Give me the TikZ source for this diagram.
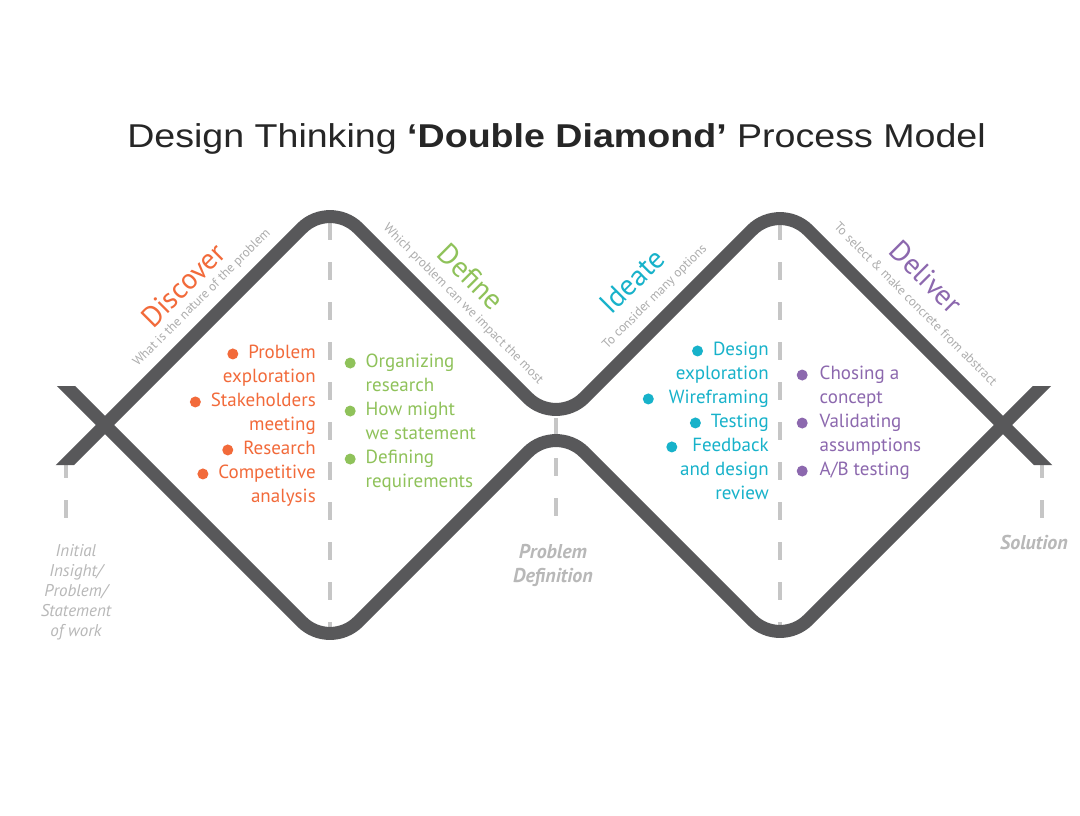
\documentclass[tikz,border=0pt]{standalone}
\usepackage{fontspec}
\setmainfont{PT Sans}
\newfontfamily\titlefont{Liberation Sans}
\definecolor{lineC}{HTML}{58585A}
\definecolor{dashC}{HTML}{C6C6C6}
\definecolor{labC}{HTML}{B8B8B8}
\definecolor{subC}{HTML}{ADADAD}
\definecolor{orangeC}{HTML}{F26A3A}
\definecolor{greenC}{HTML}{8FC25A}
\definecolor{cyanC}{HTML}{17B2CA}
\definecolor{purpleC}{HTML}{8C68AE}
\newcommand\blt[1]{\raisebox{-0.8pt}{\tikz\fill[#1] (0,0) circle (5.5pt);}\hspace{10pt}}
\tikzset{
  diamondline/.style={draw=lineC, line width=13pt, rounded corners=40pt},
  guide/.style={draw=dashC, line width=4pt, dash pattern=on 18pt off 22pt},
  phase/.style={inner sep=0pt, font=\fontsize{29}{29}\selectfont},
  phasesub/.style={inner sep=0pt, text=subC, font=\fontsize{13}{13}\selectfont},
  bullets/.style={inner sep=0pt, font=\fontsize{19}{24}\selectfont},
  milestone/.style={inner sep=0pt, text=labC, align=center}
}
\begin{document}
\begin{tikzpicture}[x=1pt,y=-1pt]
\useasboundingbox[fill=white] (0,0) rectangle (1080,815);
% title
\node[inner sep=0pt, text=black!85, font=\titlefont\fontsize{33}{33}\selectfont, xscale=1.139] (title) at (556.5,139)
  {Design Thinking \textbf{‘Double Diamond’} Process Model};
% guide dashed lines
\coordinate (g1a) at (66,460);   \coordinate (g1b) at (66,520);
\coordinate (g2a) at (330,222);  \coordinate (g2b) at (330,628);
\coordinate (g3a) at (556,418);  \coordinate (g3b) at (556,520);
\coordinate (g4a) at (780,222);  \coordinate (g4b) at (780,628);
\coordinate (g5a) at (1042,460); \coordinate (g5b) at (1042,520);
\draw[guide] (g1a) -- (g1b);
\draw[guide] (g2a) -- (g2b);
\draw[guide] (g3a) -- (g3b);
\draw[guide] (g4a) -- (g4b);
\draw[guide] (g5a) -- (g5b);
% diamond paths
\coordinate (u0) at (50,480);  \coordinate (u1) at (330,200); \coordinate (u2) at (556,426);
\coordinate (u3) at (780,202); \coordinate (u4) at (1060,482);
\coordinate (l0) at (50,370);  \coordinate (l1) at (330,650); \coordinate (l2) at (556,424);
\coordinate (l3) at (780,648); \coordinate (l4) at (1060,368);
\begin{scope}
\clip (0,386) -- (80,386) -- (80,150) -- (1030,150) -- (1030,386) -- (1080,386)
  -- (1080,465) -- (1030,465) -- (1030,700) -- (80,700) -- (80,465) -- (0,465) -- cycle;
\draw[diamondline] (u0) -- (u1) -- (u2) -- (u3) -- (u4);
\draw[diamondline] (l0) -- (l1) -- (l2) -- (l3) -- (l4);
\end{scope}
% phase labels
\node[phase, text=orangeC, rotate=45] (discover) at (183,285) {Discover};
\node[phasesub, rotate=45] (discoversub) at (202,298) {What is the nature of the problem};
\node[phase, text=greenC, rotate=-45] (define) at (471,277) {Define};
\node[phasesub, rotate=-45] (definesub) at (463,304) {Which problem can we impact the most};
\node[phase, text=cyanC, rotate=45] (ideate) at (632,281) {Ideate};
\node[phasesub, rotate=45] (ideatesub) at (655,297) {To consider many options};
\node[phase, text=purpleC, rotate=-45] (deliver) at (926,277) {Deliver};
\node[phasesub, rotate=-45] (deliversub) at (916,304) {To select \& make concrete from abstract};
% bullet lists
\node[bullets, text=orangeC, align=right, anchor=north east] (disclist) at (316,345)
  {\blt{orangeC}Problem\hspace{4pt}\\ exploration\\ \blt{orangeC}Stakeholders\hspace{4pt}\\ meeting\\
   \blt{orangeC}Research\\ \blt{orangeC}Competitive\hspace{4pt}\\ analysis};
\node[bullets, text=greenC, align=left, anchor=north west] (deflist) at (344.5,354)
  {\blt{greenC}Organizing\\ \hspace{21pt}research\\ \blt{greenC}How might\\ \hspace{21pt}we statement\\
   \blt{greenC}Defining\\ \hspace{21pt}requirements};
\node[bullets, text=cyanC, align=right, anchor=north east] (idealist) at (769,342)
  {\blt{cyanC}Design\hspace{3pt}\\ exploration\\ \blt{cyanC}\hspace{5pt}Wireframing\\ \blt{cyanC}Testing\\
   \blt{cyanC}\hspace{5pt}Feedback\hspace{3pt}\\ and design\hspace{3pt}\\ review};
\node[bullets, text=purpleC, align=left, anchor=north west] (dellist) at (796.5,366)
  {\blt{purpleC}\hspace{2pt}Chosing a\\ \hspace{23pt}concept\\ \blt{purpleC}\hspace{2pt}Validating\\
   \hspace{23pt}assumptions\\ \blt{purpleC}\hspace{2pt}A/B testing};
% milestones
\node[milestone, font=\itshape\fontsize{17}{20}\selectfont] (start) at (76,592)
  {Initial\\ Insight/\\ Problem/\\ Statement\\ of work};
\node[milestone, font=\bfseries\itshape\fontsize{20}{24}\selectfont] (probdef) at (553,565)
  {Problem\\ Definition};
\node[milestone, font=\bfseries\itshape\fontsize{20}{20}\selectfont] (solution) at (1034,542) {Solution};
\end{tikzpicture}
\end{document}
